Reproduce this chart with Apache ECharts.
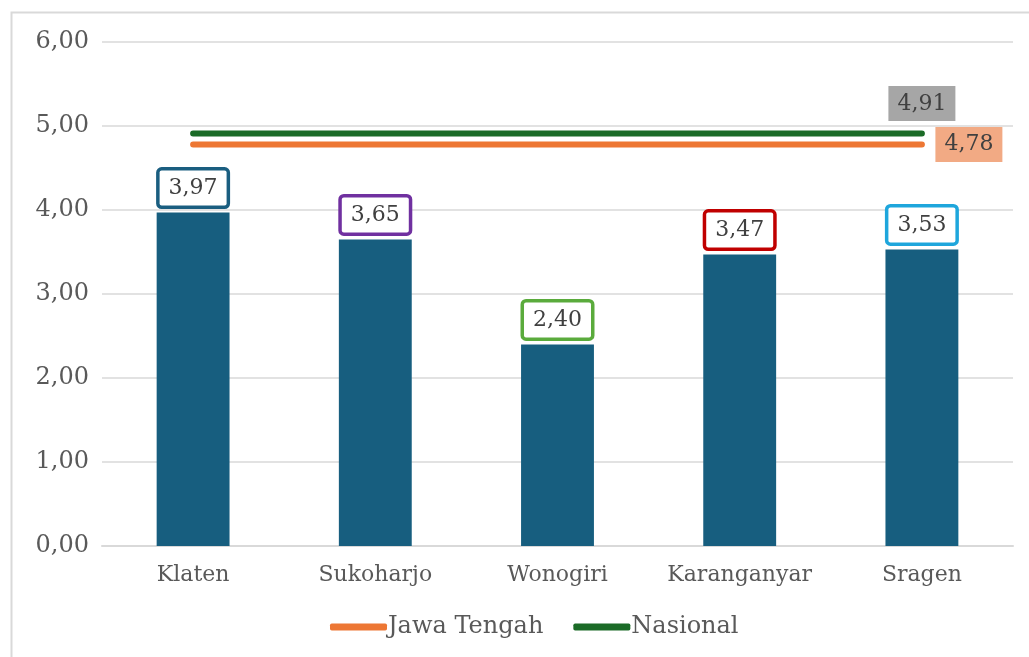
<!DOCTYPE html>
<html>
<head>
<meta charset="utf-8">
<script src="https://cdn.jsdelivr.net/npm/echarts@6/dist/echarts.min.js"></script>
<style>
  html, body { margin: 0; padding: 0; background: #fff; }
  #main { width: 1029px; height: 657px; }
</style>
</head>
<body>
<div id="main"></div>
<script>
    // data
    var categories = ['Klaten', 'Sukoharjo', 'Wonogiri', 'Karanganyar', 'Sragen'];
    var barValues = [3.97, 3.65, 2.40, 3.47, 3.53];
    var labelBorders = ['#1a5e80', '#7030a0', '#5aab3c', '#c00000', '#1ea6dc'];
    var jatengValue = 4.78;
    var nasionalValue = 4.91;
    var yTicks = [0, 1, 2, 3, 4, 5, 6];

    var fmt = function (v) { return v.toFixed(2).replace('.', ','); };
    var font = '"DejaVu Serif", "Liberation Serif", serif';

    var chartDom = document.getElementById('main');
    var myChart = echarts.init(chartDom);

    var barData = barValues.map(function (v, i) {
        return {
            value: v,
            label: { borderColor: labelBorders[i] }
        };
    });

    // flat reference line, label only on the last point
    function flatLine(v, lbl) {
        return categories.map(function (c, i) {
            if (i === categories.length - 1) {
                return { value: v, label: lbl };
            }
            return { value: v, label: { show: false } };
        });
    }

    var option = {
        animation: false,
        textStyle: { fontFamily: font },
        graphic: [{
            type: 'rect',
            shape: { x: 11.5, y: 12.5, width: 1030, height: 660 },
            style: { fill: 'none', stroke: '#d9d9d9', lineWidth: 2 },
            silent: true
        }],
        grid: { left: 102, right: 16, top: 42, bottom: 111 },
        legend: {
            bottom: 13,
            left: 325,
            data: ['Jawa Tengah', 'Nasional'],
            itemWidth: 57,
            itemHeight: 7,
            itemGap: 30,
            icon: 'roundRect',
            textStyle: { fontFamily: font, fontSize: 24, color: '#595959', padding: [0, 0, 0, -4] }
        },
        xAxis: {
            type: 'category',
            data: categories,
            axisTick: { show: false },
            axisLine: { lineStyle: { color: '#d9d9d9', width: 2 } },
            axisLabel: { interval: 0, fontFamily: font, fontSize: 22, color: '#595959', margin: 18 }
        },
        yAxis: {
            type: 'value',
            min: yTicks[0],
            max: yTicks[yTicks.length - 1],
            interval: 1,
            axisLabel: {
                fontFamily: font, fontSize: 24, color: '#595959', margin: 13,
                formatter: function (v) { return fmt(v); }
            },
            splitLine: { lineStyle: { color: '#d9d9d9', width: 1.5 } }
        },
        series: [
            {
                name: 'Nilai',
                type: 'bar',
                barWidth: '40%',
                data: barData,
                itemStyle: { color: '#175e7f' },
                label: {
                    show: true,
                    position: 'top',
                    distance: 7,
                    formatter: function (p) { return fmt(p.value); },
                    fontFamily: font,
                    fontSize: 22,
                    color: '#404040',
                    backgroundColor: '#fff',
                    borderWidth: 3.5,
                    borderRadius: 2,
                    padding: [7, 9, 6, 9]
                }
            },
            {
                name: 'Jawa Tengah',
                type: 'line',
                data: flatLine(jatengValue, {
                    show: true,
                    position: 'right',
                    distance: 13,
                    formatter: function (p) { return fmt(p.value); },
                    fontFamily: font,
                    fontSize: 22,
                    color: '#404040',
                    backgroundColor: '#f2aa84',
                    padding: [7, 9, 6, 9]
                }),
                symbol: 'circle',
                symbolSize: 1,
                showSymbol: true,
                itemStyle: { color: '#ed7734' },
                lineStyle: { color: '#ed7734', width: 6, cap: 'round' },
                z: 3
            },
            {
                name: 'Nasional',
                type: 'line',
                data: flatLine(nasionalValue, {
                    show: true,
                    position: 'top',
                    distance: 12,
                    formatter: function (p) { return fmt(p.value); },
                    fontFamily: font,
                    fontSize: 22,
                    color: '#404040',
                    backgroundColor: '#a6a6a6',
                    padding: [7, 9, 6, 9]
                }),
                symbol: 'circle',
                symbolSize: 1,
                showSymbol: true,
                itemStyle: { color: '#1b6b27' },
                lineStyle: { color: '#1b6b27', width: 6, cap: 'round' },
                z: 3
            }
        ]
    };

    myChart.setOption(option);
</script>
</body>
</html>
